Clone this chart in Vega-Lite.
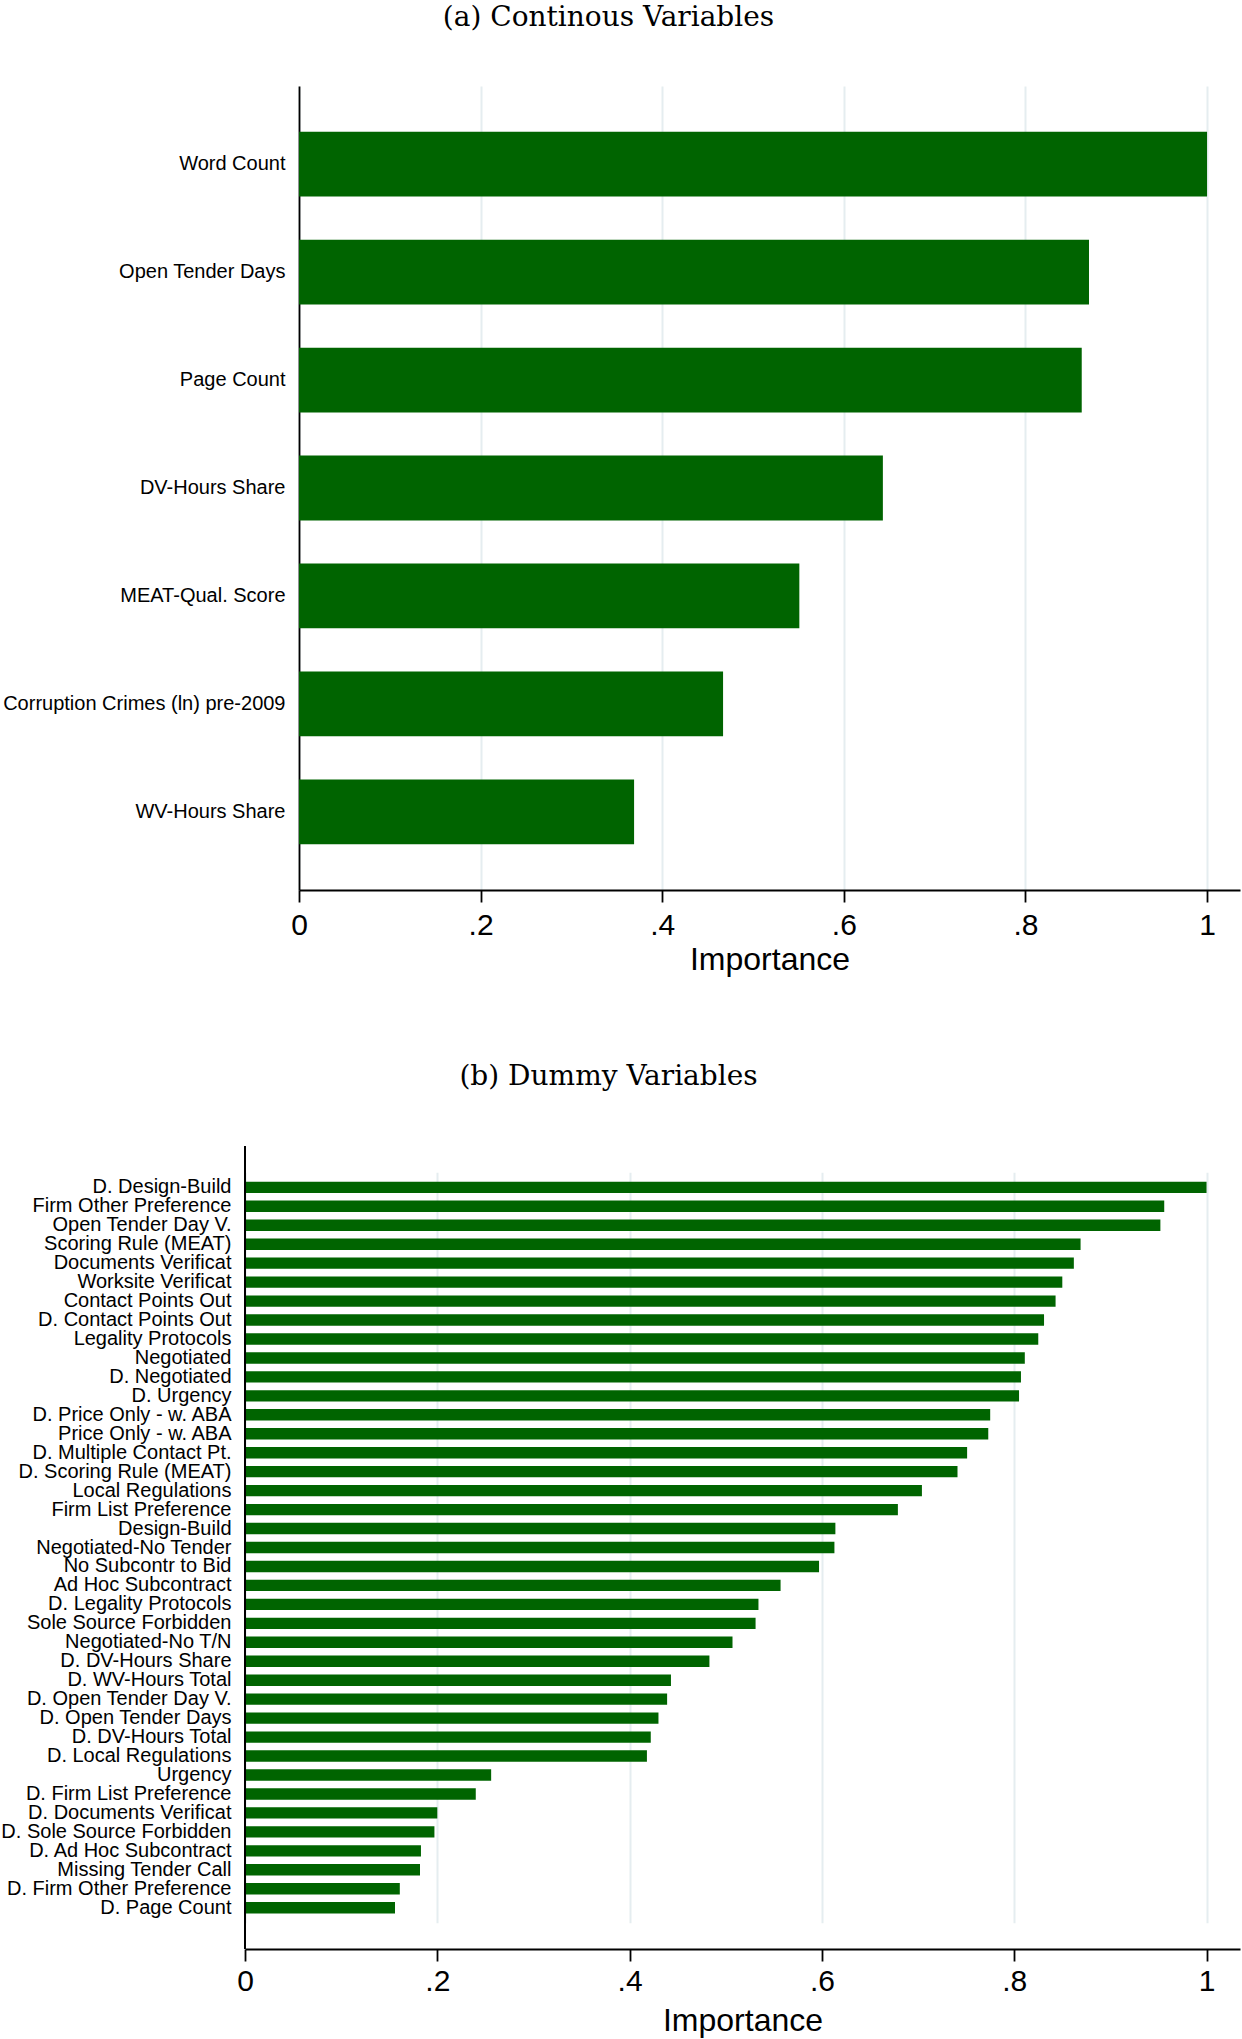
{
  "$schema": "https://vega.github.io/schema/vega-lite/v6.json",
  "autosize": {"type": "none"},
  "padding": {"left": 245, "top": 86, "right": 997, "bottom": 1953},
  "background": "white",
  "bounds": "flush",
  "spacing": 256,
  "config": {
    "view": {"stroke": null},
    "font": "Liberation Sans",
    "title": {"font": "DejaVu Serif", "fontSize": 28, "fontWeight": "normal", "color": "black", "anchor": "middle", "frame": "group", "offset": 54, "baseline": "alphabetic", "dx": -134},
    "axisX": {"grid": true, "gridColor": "#e5edf0", "gridWidth": 2, "domainColor": "black", "domainWidth": 1.8, "tickColor": "black", "tickWidth": 1.8, "tickSize": 12, "labelFontSize": 30, "labelColor": "black", "labelPadding": 8, "labelFlush": false, "labelFont": "Liberation Sans", "titleFont": "Liberation Sans", "titleFontSize": 32, "titleFontWeight": "normal", "titleColor": "black", "titleBaseline": "alphabetic", "titleY": 79, "zindex": 0},
    "axisY": {"ticks": false, "grid": false, "domainColor": "black", "domainWidth": 1.8, "labelFontSize": 20, "labelColor": "black", "labelFont": "Liberation Sans", "labelPadding": 14, "labelLimit": 0, "labelOverlap": false, "zindex": 1}
  },
  "datasets": {
    "cont": [
      {"variable": "Word Count", "importance": 1.0},
      {"variable": "Open Tender Days", "importance": 0.870},
      {"variable": "Page Count", "importance": 0.862},
      {"variable": "DV-Hours Share", "importance": 0.643},
      {"variable": "MEAT-Qual. Score", "importance": 0.551},
      {"variable": "Corruption Crimes (ln) pre-2009", "importance": 0.467},
      {"variable": "WV-Hours Share", "importance": 0.369}
    ],
    "dummy": [
      {"variable": "D. Design-Build", "importance": 1.0},
      {"variable": "Firm Other Preference", "importance": 0.956},
      {"variable": "Open Tender Day V.", "importance": 0.952},
      {"variable": "Scoring Rule (MEAT)", "importance": 0.869},
      {"variable": "Documents Verificat", "importance": 0.862},
      {"variable": "Worksite Verificat", "importance": 0.850},
      {"variable": "Contact Points Out", "importance": 0.843},
      {"variable": "D. Contact Points Out", "importance": 0.831},
      {"variable": "Legality Protocols", "importance": 0.825},
      {"variable": "Negotiated", "importance": 0.811},
      {"variable": "D. Negotiated", "importance": 0.807},
      {"variable": "D. Urgency", "importance": 0.805},
      {"variable": "D. Price Only - w. ABA", "importance": 0.775},
      {"variable": "Price Only - w. ABA", "importance": 0.773},
      {"variable": "D. Multiple Contact Pt.", "importance": 0.751},
      {"variable": "D. Scoring Rule (MEAT)", "importance": 0.741},
      {"variable": "Local Regulations", "importance": 0.704},
      {"variable": "Firm List Preference", "importance": 0.679},
      {"variable": "Design-Build", "importance": 0.614},
      {"variable": "Negotiated-No Tender", "importance": 0.613},
      {"variable": "No Subcontr to Bid", "importance": 0.597},
      {"variable": "Ad Hoc Subcontract", "importance": 0.557},
      {"variable": "D. Legality Protocols", "importance": 0.534},
      {"variable": "Sole Source Forbidden", "importance": 0.531},
      {"variable": "Negotiated-No T/N", "importance": 0.507},
      {"variable": "D. DV-Hours Share", "importance": 0.483},
      {"variable": "D. WV-Hours Total", "importance": 0.443},
      {"variable": "D. Open Tender Day V.", "importance": 0.439},
      {"variable": "D. Open Tender Days", "importance": 0.430},
      {"variable": "D. DV-Hours Total", "importance": 0.422},
      {"variable": "D. Local Regulations", "importance": 0.418},
      {"variable": "Urgency", "importance": 0.256},
      {"variable": "D. Firm List Preference", "importance": 0.240},
      {"variable": "D. Documents Verificat", "importance": 0.200},
      {"variable": "D. Sole Source Forbidden", "importance": 0.197},
      {"variable": "D. Ad Hoc Subcontract", "importance": 0.183},
      {"variable": "Missing Tender Call", "importance": 0.182},
      {"variable": "D. Firm Other Preference", "importance": 0.161},
      {"variable": "D. Page Count", "importance": 0.156}
    ]
  },
  "vconcat": [
    {
      "title": "(a) Continous Variables",
      "width": 995,
      "height": 804,
      "data": {"name": "cont"},
      "mark": {"type": "bar", "color": "#006400"},
      "encoding": {
        "y": {"field": "variable", "type": "nominal", "sort": null, "title": null, "scale": {"paddingInner": 0.4, "paddingOuter": 0.423}, "axis": {"offset": -54}},
        "x": {"field": "importance", "type": "quantitative", "title": "Importance", "scale": {"domain": [-0.0595, 1.0363], "nice": false}, "axis": {"values": [0, 0.2, 0.4, 0.6, 0.8, 1], "labelExpr": "datum.value == 0 ? '0' : datum.value == 1 ? '1' : replace(format(datum.value, '.1f'), '0.', '.')", "titleX": 524.5, "domainDash": [0, 54, 2000, 0]}}
      }
    },
    {
      "title": "(b) Dummy Variables",
      "width": 995,
      "height": 803,
      "data": {"name": "dummy"},
      "layer": [
        {
          "mark": {"type": "bar", "color": "#006400"},
          "encoding": {
            "y": {"field": "variable", "type": "nominal", "sort": null, "title": null, "scale": {"range": [26.16, 776.86], "paddingInner": 0.4, "paddingOuter": 0.5}, "axis": {"domain": false}},
            "x": {"field": "importance", "type": "quantitative", "title": "Importance", "scale": {"domain": [0, 1.0348], "nice": false}, "axis": {"values": [0, 0.2, 0.4, 0.6, 0.8, 1], "labelExpr": "datum.value == 0 ? '0' : datum.value == 1 ? '1' : replace(format(datum.value, '.1f'), '0.', '.')", "titleX": 497.5, "labelPadding": 5, "titleY": 81}}
          }
        },
        {
          "mark": {"type": "rule", "color": "black", "strokeWidth": 1.8},
          "encoding": {"x": {"datum": 0}}
        }
      ]
    }
  ]
}
